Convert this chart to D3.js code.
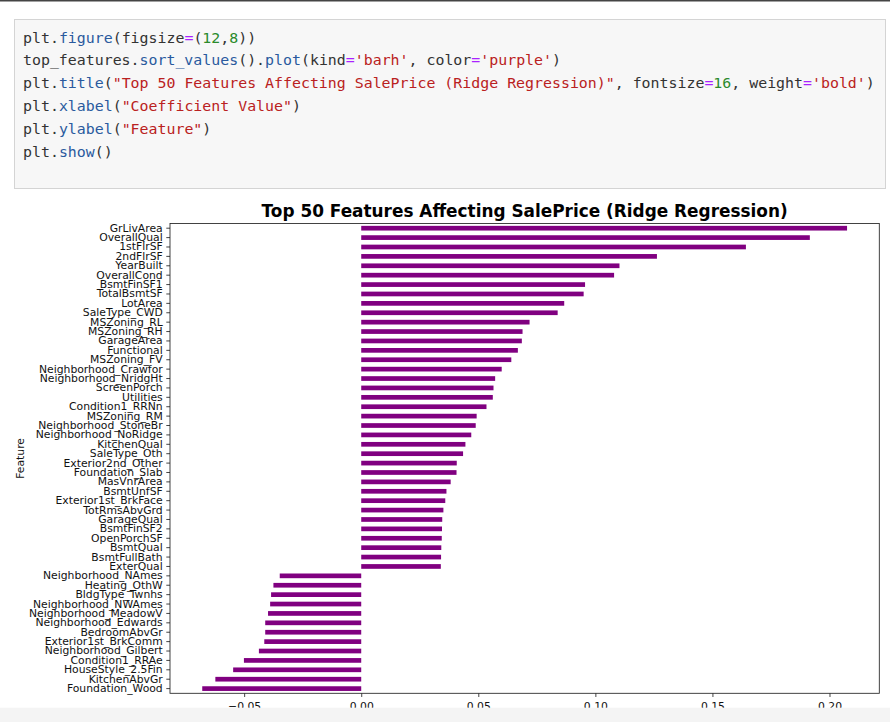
<!DOCTYPE html>
<html>
<head>
<meta charset="utf-8">
<script src="https://cdn.jsdelivr.net/npm/d3@7"></script>
<style>
  body { margin: 0; background: #fff; }
  svg { display: block; }
</style>
</head>
<body>
<svg id="page" width="890" height="722"></svg>
<script>
// data, top bar first
var features = [
  'GrLivArea', 'OverallQual', '1stFlrSF', '2ndFlrSF', 'YearBuilt',
  'OverallCond', 'BsmtFinSF1', 'TotalBsmtSF', 'LotArea', 'SaleType_CWD',
  'MSZoning_RL', 'MSZoning_RH', 'GarageArea', 'Functional', 'MSZoning_FV',
  'Neighborhood_Crawfor', 'Neighborhood_NridgHt', 'ScreenPorch', 'Utilities', 'Condition1_RRNn',
  'MSZoning_RM', 'Neighborhood_StoneBr', 'Neighborhood_NoRidge', 'KitchenQual', 'SaleType_Oth',
  'Exterior2nd_Other', 'Foundation_Slab', 'MasVnrArea', 'BsmtUnfSF', 'Exterior1st_BrkFace',
  'TotRmsAbvGrd', 'GarageQual', 'BsmtFinSF2', 'OpenPorchSF', 'BsmtQual',
  'BsmtFullBath', 'ExterQual', 'Neighborhood_NAmes', 'Heating_OthW', 'BldgType_Twnhs',
  'Neighborhood_NWAmes', 'Neighborhood_MeadowV', 'Neighborhood_Edwards', 'BedroomAbvGr', 'Exterior1st_BrkComm',
  'Neighborhood_Gilbert', 'Condition1_RRAe', 'HouseStyle_2.5Fin', 'KitchenAbvGr', 'Foundation_Wood'
];
var coefs = [
  0.2075, 0.1916, 0.1643, 0.1263, 0.1103,
  0.1080, 0.0956, 0.0950, 0.0867, 0.0839,
  0.0719, 0.0689, 0.0686, 0.0669, 0.0641,
  0.0600, 0.0572, 0.0565, 0.0562, 0.0535,
  0.0493, 0.0489, 0.0470, 0.0445, 0.0435,
  0.0408, 0.0407, 0.0382, 0.0364, 0.0359,
  0.0351, 0.0346, 0.0345, 0.0344, 0.0342,
  0.0341, 0.0340, -0.0348, -0.0375, -0.0385,
  -0.0389, -0.0398, -0.0410, -0.0410, -0.0414,
  -0.0437, -0.0501, -0.0547, -0.0623, -0.0679
];
var xTicks = [-0.05, 0, 0.05, 0.10, 0.15, 0.20];

var codeLines = [
  [['plt.', '#333'], ['figure', '#2a5a9e'], ['(figsize', '#333'], ['=', '#aa22ff'], ['(', '#333'], ['12', '#2b8a2b'], [',', '#333'], ['8', '#2b8a2b'], ['))', '#333']],
  [['top_features.', '#333'], ['sort_values', '#2a5a9e'], ['().', '#333'], ['plot', '#2a5a9e'], ['(kind', '#333'], ['=', '#aa22ff'], ["'barh'", '#ba2121'], [', color', '#333'], ['=', '#aa22ff'], ["'purple'", '#ba2121'], [')', '#333']],
  [['plt.', '#333'], ['title', '#2a5a9e'], ['(', '#333'], ['"Top 50 Features Affecting SalePrice (Ridge Regression)"', '#ba2121'], [', fontsize', '#333'], ['=', '#aa22ff'], ['16', '#2b8a2b'], [', weight', '#333'], ['=', '#aa22ff'], ["'bold'", '#ba2121'], [')', '#333']],
  [['plt.', '#333'], ['xlabel', '#2a5a9e'], ['(', '#333'], ['"Coefficient Value"', '#ba2121'], [')', '#333']],
  [['plt.', '#333'], ['ylabel', '#2a5a9e'], ['(', '#333'], ['"Feature"', '#ba2121'], [')', '#333']],
  [['plt.', '#333'], ['show', '#2a5a9e'], ['()', '#333']]
];

var svg = d3.select('#page');

// thin dark line at the very top
svg.append('rect').attr('x', 0).attr('y', 0).attr('width', 890).attr('height', 1.5).attr('fill', '#444');

// code cell
svg.append('rect')
    .attr('x', 14.5).attr('y', 19.5).attr('width', 871).attr('height', 169)
    .attr('fill', '#f7f7f7').attr('stroke', '#d4d4d4');

var code = svg.append('g')
    .attr('font-family', 'DejaVu Sans Mono, monospace')
    .attr('font-size', '14.9px');
codeLines.forEach(function (parts, i) {
  var t = code.append('text')
      .attr('x', 23)
      .attr('y', 42.5 + i * 22.8)
      .attr('xml:space', 'preserve');
  parts.forEach(function (p) {
    t.append('tspan').attr('fill', p[1]).text(p[0]);
  });
});

// chart
var plot = { left: 170, right: 879.3, top: 223.5, bottom: 693.3 };

var lo = Math.min(0, d3.min(coefs)),
    hi = Math.max(0, d3.max(coefs)),
    pad = (hi - lo) * 0.05;

var x = d3.scaleLinear()
    .domain([lo - pad, hi + pad])
    .range([plot.left, plot.right]);

var y = d3.scaleBand()
    .domain(features)
    .range([plot.top, plot.bottom])
    .paddingInner(0.5)
    .paddingOuter(0.25);

var chart = svg.append('g');

chart.selectAll('rect.bar')
    .data(features)
    .enter().append('rect')
    .attr('class', 'bar')
    .attr('x', function (d, i) { return x(Math.min(0, coefs[i])); })
    .attr('y', function (d) { return y(d); })
    .attr('width', function (d, i) { return Math.abs(x(coefs[i]) - x(0)); })
    .attr('height', y.bandwidth())
    .attr('fill', '#800080');

// y axis
var yAxis = chart.append('g')
    .attr('transform', 'translate(' + plot.left + ',0)')
    .call(d3.axisLeft(y).tickSize(3.7).tickSizeOuter(0).tickPadding(3.6));

// x axis
var xAxis = chart.append('g')
    .attr('transform', 'translate(0,' + plot.bottom + ')')
    .call(d3.axisBottom(x).tickValues(xTicks).tickFormat(d3.format('.2f'))
      .tickSize(3.7).tickSizeOuter(0).tickPadding(5));

[yAxis, xAxis].forEach(function (a) {
  a.select('.domain').remove();
  a.selectAll('line').attr('stroke', '#222').attr('stroke-width', 0.85);
  a.selectAll('text')
      .attr('fill', '#111')
      .attr('font-family', 'DejaVu Sans, sans-serif')
      .attr('font-size', '10.8px');
});

// frame
chart.append('rect')
    .attr('x', plot.left).attr('y', plot.top)
    .attr('width', plot.right - plot.left).attr('height', plot.bottom - plot.top)
    .attr('fill', 'none').attr('stroke', '#222').attr('stroke-width', 0.85);

chart.append('text')
    .attr('x', (plot.left + plot.right) / 2)
    .attr('y', 217)
    .attr('text-anchor', 'middle')
    .attr('font-family', 'DejaVu Sans, sans-serif')
    .attr('font-size', '16.9px')
    .attr('font-weight', 'bold')
    .text('Top 50 Features Affecting SalePrice (Ridge Regression)');

chart.append('text')
    .attr('transform', 'translate(24,' + (plot.top + plot.bottom) / 2 + ') rotate(-90)')
    .attr('text-anchor', 'middle')
    .attr('font-family', 'DejaVu Sans, sans-serif')
    .attr('font-size', '10.8px')
    .attr('fill', '#111')
    .text('Feature');

// grey strip that cuts off the bottom of the output
svg.append('rect').attr('x', 0).attr('y', 707.7).attr('width', 890).attr('height', 15).attr('fill', '#f4f4f4');
</script>
</body>
</html>
